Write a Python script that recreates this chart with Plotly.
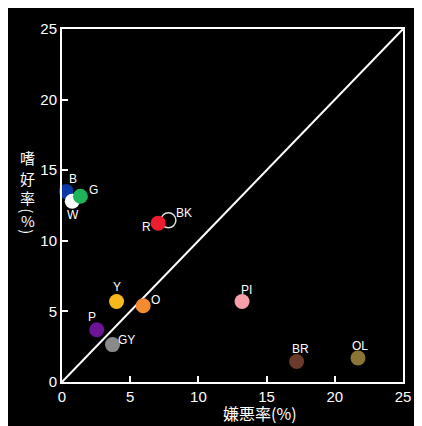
import plotly.graph_objects as go

# ---- data ----
labels = ["B", "W", "G", "BK", "R", "Y", "O", "PI", "P", "GY", "BR", "OL"]
dislike_rate = [0.3, 0.75, 1.35, 7.8, 7.05, 4.0, 5.95, 13.2, 2.55, 3.7, 17.2, 21.7]
like_rate = [13.5, 12.8, 13.15, 11.45, 11.25, 5.7, 5.4, 5.7, 3.7, 2.65, 1.45, 1.7]
tick_vals = [0, 5, 10, 15, 20, 25]
x_title = "嫌悪率(%)"
y_title_chars = ["嗜", "好", "率", "(", "%", ")"]

# ---- styles ----
colors = ["#0b38a4", "#ffffff", "#1db45a", "rgba(0,0,0,0)", "#ee1c2e", "#f6b81c",
          "#f58b30", "#f5a0a8", "#6b1496", "#8a8a8a", "#6b3a2a", "#8a7535"]
line_colors = ["rgba(0,0,0,0)"] * 3 + ["#dddddd"] + ["rgba(0,0,0,0)"] * 8
label_shift = {"B": (7, 12), "W": (1, -14), "G": (13, 6), "BK": (16, 7), "R": (-12, -4),
               "Y": (0, 15), "O": (12, 6), "PI": (4, 12), "P": (-5, 13), "GY": (14, 5),
               "BR": (4, 13), "OL": (2, 12)}
y_title_pos = [156, 177, 197, 210, 220, 231]   # screen px centres
y_title_angle = [0, 0, 0, 90, 0, 90]

OFF = 8  # page body margin
W, H = 422, 426
ML, MR, MT = 53.5, 27, 18.7
MB = H - 374.5
PW, PH = W - ML - MR, H - MT - MB


def px2paper(px, py):
    fx, fy = px - OFF, py - OFF
    return (fx - ML) / PW, (H - MB - fy) / PH


fig = go.Figure()

# diagonal reference line y = x
fig.add_trace(go.Scatter(x=[tick_vals[0], tick_vals[-1]], y=[tick_vals[0], tick_vals[-1]],
                         mode="lines", line=dict(color="white", width=2),
                         hoverinfo="skip", showlegend=False))

fig.add_trace(go.Scatter(
    x=dislike_rate, y=like_rate, mode="markers",
    marker=dict(size=15, color=colors, line=dict(color=line_colors, width=1.5)),
    text=labels, showlegend=False, cliponaxis=False))

for lab, xv, yv in zip(labels, dislike_rate, like_rate):
    dx, dy = label_shift[lab]
    fig.add_annotation(x=xv, y=yv, text=lab, showarrow=False, xshift=dx, yshift=dy,
                       font=dict(color="white", size=12, family="Liberation Sans, Arial"))

axis_style = dict(range=[0, 25], tickvals=tick_vals, showgrid=False, zeroline=False,
                  showline=True, linecolor="white", linewidth=2, mirror=True,
                  ticks="inside", ticklen=6, tickwidth=2, tickcolor="white",
                  tickfont=dict(color="white", size=15, family="Liberation Sans, Arial"))
fig.update_xaxes(**axis_style)
fig.update_yaxes(**axis_style)

tx, ty = px2paper(260, 414)
fig.add_annotation(xref="paper", yref="paper", x=tx, y=ty, text=x_title, showarrow=False,
                   xanchor="center", yanchor="middle", borderpad=0,
                   font=dict(color="white", size=16, family="Noto Sans CJK JP"))
for ch, py, ang in zip(y_title_chars, y_title_pos, y_title_angle):
    cx, cy = px2paper(27, py)
    fig.add_annotation(xref="paper", yref="paper", x=cx, y=cy, text=ch, showarrow=False,
                       xanchor="center", yanchor="middle", textangle=ang,
                       font=dict(color="white", size=15, family="Noto Sans CJK JP"))

fig.update_layout(width=W, height=H, margin=dict(l=ML, r=MR, t=MT, b=MB),
                  paper_bgcolor="black", plot_bgcolor="black", showlegend=False)

fig.write_html("out.html")
